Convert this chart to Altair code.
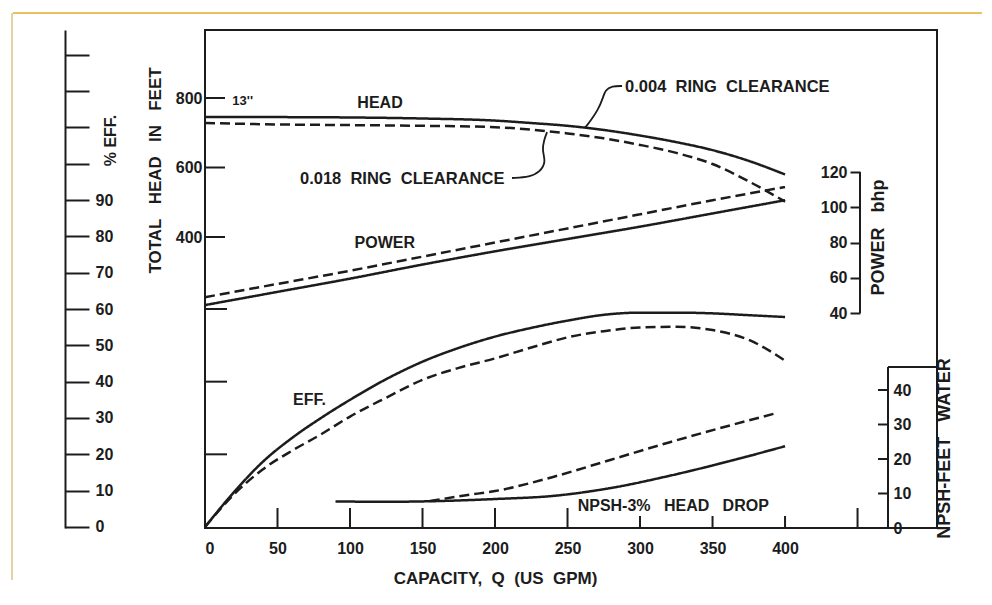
import altair as alt
import pandas as pd

# ---------------- data ----------------
Q_HEAD = [0, 50, 100, 150, 200, 225, 250, 275, 300, 325, 350, 375, 400]
HEAD_004 = [745, 745, 744, 741, 735, 728, 720, 708, 692, 673, 650, 619, 580]
HEAD_018 = [728, 724, 722, 720, 716, 709, 698, 684, 665, 642, 610, 560, 502]

Q_POWER = [0, 50, 100, 150, 200, 250, 300, 350, 400]
POWER_004 = [44.5, 52, 59.5, 67.5, 75, 82, 89, 96.5, 104]
POWER_018 = [49, 56.5, 64, 72, 80, 88, 96, 104, 111.5]

Q_EFF = [0, 20, 40, 60, 80, 100, 125, 150, 175, 200, 225, 250, 275, 300, 325, 350, 375, 400]
EFF_004 = [0, 9.6, 18, 24.5, 30, 35, 40.7, 45.5, 49.3, 52.4, 54.8, 56.8, 58.4, 59, 59, 58.8, 58.3, 57.8]
EFF_018 = [0, 9, 15.9, 21, 25.5, 30.4, 35.6, 40.5, 43.8, 46.4, 49.4, 52.2, 53.9, 54.9, 55.1, 54.2, 51.5, 45.8]

Q_NPSH_004 = [90, 125, 160, 200, 240, 280, 320, 360, 400]
NPSH_004 = [7.7, 7.6, 7.8, 8.4, 9.3, 11.6, 15.1, 19.2, 23.7]
Q_NPSH_018 = [155, 180, 200, 240, 280, 320, 360, 395]
NPSH_018 = [7.8, 9.5, 10.7, 14.8, 19.8, 24.8, 29.5, 33.4]

# leader lines of the clearance labels (Q, head)
LEAD_004_Q = [287.6, 280.7, 275.9, 274.5, 271, 266.2, 262]
LEAD_004_H = [834.5, 834.5, 823, 800, 765.5, 736.7, 713.7]
LEAD_018_Q = [211.7, 224, 231, 235.2, 232.4, 233.8, 235.9]
LEAD_018_H = [569.8, 572.7, 587, 615.8, 650, 679, 702]

X_TICKS_TALL = [50, 100, 150, 200, 250, 450]
X_TICKS_SHORT = [300, 350, 400]
HEAD_INNER_TICKS = [400, 600, 800]
EFF_INNER_TICKS = [20, 40, 60]
NPSH_TICKS = [10, 20, 30, 40]

SP = "\u00a0\u00a0"
SP3 = "\u00a0\u00a0\u00a0"
FONT = "Liberation Sans, Arial, sans-serif"
INK = "#1c1c1c"

W, H = 732, 498
xs = alt.Scale(domain=[0, 504.8], nice=False, zero=False)
head_s = alt.Scale(domain=[-437.4, 995.7], nice=False, zero=False)
pow_s = alt.Scale(domain=[-82.0, 200.6], nice=False, zero=False)
eff_s = alt.Scale(domain=[-0.28, 136.8], nice=False, zero=False)
npsh_s = alt.Scale(domain=[0, 144.35], nice=False, zero=False)
dash_s = alt.Scale(domain=["0.004", "0.018"], range=[[1, 0], [10, 5]])


def axis_style(title_size):
    return dict(grid=False, labelFont=FONT, labelFontSize=16, labelFontWeight="bold",
                labelColor=INK, titleFont=FONT, titleFontSize=title_size, titleFontWeight="bold",
                titleColor=INK, tickColor=INK, domainColor=INK, tickWidth=2, domainWidth=2,
                titleAlign="center", titleBaseline="middle")


x_axis = alt.Axis(values=[0, 50, 100, 150, 200, 250, 300, 350, 400], tickSize=0, domain=False,
                  labelPadding=12, title="CAPACITY," + SP + "Q" + SP + "(US" + SP + "GPM)",
                  titleX=290, titleY=50, **axis_style(17))
X = alt.X("Q:Q", scale=xs, axis=x_axis)

head_axis = alt.Axis(orient="left", values=[400, 600, 800], tickSize=0, domain=False,
                     labelPadding=3, title="TOTAL" + SP3 + "HEAD" + SP3 + "IN" + SP3 + "FEET",
                     titleAngle=270, titleX=-50, titleY=140, **axis_style(17))
eff_axis = alt.Axis(orient="right", offset=-872, values=list(range(0, 131, 10)),
                    labelExpr="datum.value <= 90 ? datum.label : ''", tickSize=24,
                    labelPadding=6, title="%\u00a0EFF.", titleAngle=270, titleX=45, titleY=110,
                    **axis_style(16))
pow_axis = alt.Axis(orient="left", offset=-655, values=[40, 60, 80, 100, 120], tickSize=10,
                    domain=False, labelPadding=3, title="POWER" + SP3 + "bhp", titleAngle=270,
                    titleX=18, titleY=207, **axis_style(18))
npsh_axis = alt.Axis(orient="right", offset=-49, values=[0, 10, 20, 30, 40], tickSize=0,
                     domain=False, labelPadding=5, title="NPSH-FEET" + SP3 + "WATER",
                     titleAngle=270, titleX=56, titleY=418, **axis_style(18))


def two(q1, v1, q2, v2):
    return pd.DataFrame({"Q": list(q1) + list(q2), "v": list(v1) + list(v2),
                         "c": ["0.004"] * len(q1) + ["0.018"] * len(q2)})


def curves(df, scale, axis):
    return alt.Chart(df).mark_line(color=INK, strokeWidth=2.5, interpolate="monotone").encode(
        x=X, y=alt.Y("v:Q", scale=scale, axis=axis),
        strokeDash=alt.StrokeDash("c:N", scale=dash_s, legend=None))


head = curves(two(Q_HEAD, HEAD_004, Q_HEAD, HEAD_018), head_s, head_axis)
power = curves(two(Q_POWER, POWER_004, Q_POWER, POWER_018), pow_s, pow_axis)
eff = curves(two(Q_EFF, EFF_004, Q_EFF, EFF_018), eff_s, eff_axis)
npsh = curves(two(Q_NPSH_004, NPSH_004, Q_NPSH_018, NPSH_018), npsh_s, npsh_axis)


def leader(qs, hs):
    df = pd.DataFrame({"Q": qs, "v": hs, "i": list(range(len(qs)))})
    return alt.Chart(df).mark_line(color=INK, strokeWidth=1.8, interpolate="basis").encode(
        x=X, y=alt.Y("v:Q", scale=head_s, axis=None), order="i:Q")


lead1 = leader(LEAD_004_Q, LEAD_004_H)
lead2 = leader(LEAD_018_Q, LEAD_018_H)


def label(q, v, text, scale, align="left", size=16):
    df = pd.DataFrame({"Q": [q], "v": [v], "t": [text]})
    return alt.Chart(df).mark_text(font=FONT, fontSize=size, fontWeight="bold", color=INK,
                                   align=align, baseline="middle").encode(
        x=X, y=alt.Y("v:Q", scale=scale, axis=None), text="t:N")


labels = [
    label(26, 791, "13''", head_s, "center", 13),
    label(120.7, 786, "HEAD", head_s, "center"),
    label(289.7, 832, "0.004" + SP + "RING" + SP + "CLEARANCE", head_s, size=16.5),
    label(65.5, 567, "0.018" + SP + "RING" + SP + "CLEARANCE", head_s, size=16.5),
    label(124, 79.7, "POWER", pow_s, "center"),
    label(60.7, 35, "EFF.", eff_s),
    label(257, 6.3, "NPSH-3%" + SP3 + "HEAD" + SP3 + "DROP", npsh_s),
]

# tick marks drawn inward, as in the original drawing
xt_tall = alt.Chart(pd.DataFrame({"Q": X_TICKS_TALL})).mark_rule(color=INK, strokeWidth=2).encode(
    x=X, y=alt.value(H), y2=alt.value(H - 20))
xt_short = alt.Chart(pd.DataFrame({"Q": X_TICKS_SHORT})).mark_rule(color=INK, strokeWidth=2).encode(
    x=X, y=alt.value(H), y2=alt.value(H - 12))
head_ticks = alt.Chart(pd.DataFrame({"v": HEAD_INNER_TICKS})).mark_rule(color=INK, strokeWidth=2).encode(
    x=alt.value(0), x2=alt.value(20), y=alt.Y("v:Q", scale=head_s, axis=None))
eff_ticks = alt.Chart(pd.DataFrame({"v": EFF_INNER_TICKS})).mark_rule(color=INK, strokeWidth=2).encode(
    x=alt.value(0), x2=alt.value(22), y=alt.Y("v:Q", scale=eff_s, axis=None))
npsh_ticks = alt.Chart(pd.DataFrame({"v": NPSH_TICKS})).mark_rule(color=INK, strokeWidth=2).encode(
    x=alt.value(673), x2=alt.value(683), y=alt.Y("v:Q", scale=npsh_s, axis=None))

# partial axis lines: power 40-120, NPSH box
pow_line = alt.Chart(pd.DataFrame({"a": [40], "b": [120]})).mark_rule(color=INK, strokeWidth=2).encode(
    x=alt.value(655), y=alt.Y("a:Q", scale=pow_s, axis=None), y2="b:Q")
npsh_line = alt.Chart(pd.DataFrame({"a": [0], "b": [46.7]})).mark_rule(color=INK, strokeWidth=2).encode(
    x=alt.value(683), y=alt.Y("a:Q", scale=npsh_s, axis=None), y2="b:Q")
npsh_top = alt.Chart(pd.DataFrame({"b": [46.7]})).mark_rule(color=INK, strokeWidth=2).encode(
    x=alt.value(683), x2=alt.value(W), y=alt.Y("b:Q", scale=npsh_s, axis=None))

# scan border decoration
top_border = alt.Chart(pd.DataFrame({"k": [0]})).mark_rule(color="#e8c25e", strokeWidth=2).encode(
    x=alt.value(-192), x2=alt.value(777), y=alt.value(-17))
left_border = alt.Chart(pd.DataFrame({"k": [0]})).mark_rule(color="#e4d3a2", strokeWidth=2).encode(
    x=alt.value(-193), y=alt.value(-17), y2=alt.value(550))

chart = alt.layer(
    head, power, eff, npsh, lead1, lead2, *labels,
    xt_tall, xt_short, head_ticks, eff_ticks, npsh_ticks,
    pow_line, npsh_line, npsh_top, top_border, left_border,
).resolve_scale(y="independent").properties(
    width=W, height=H,
    autosize=alt.AutoSizeParams(type="none"),
    padding={"left": 197, "top": 22, "right": 45, "bottom": 60},
    background="white",
).configure_view(stroke=INK, strokeWidth=2)

chart.save("out.html", embed_options={"renderer": "svg", "actions": False})
